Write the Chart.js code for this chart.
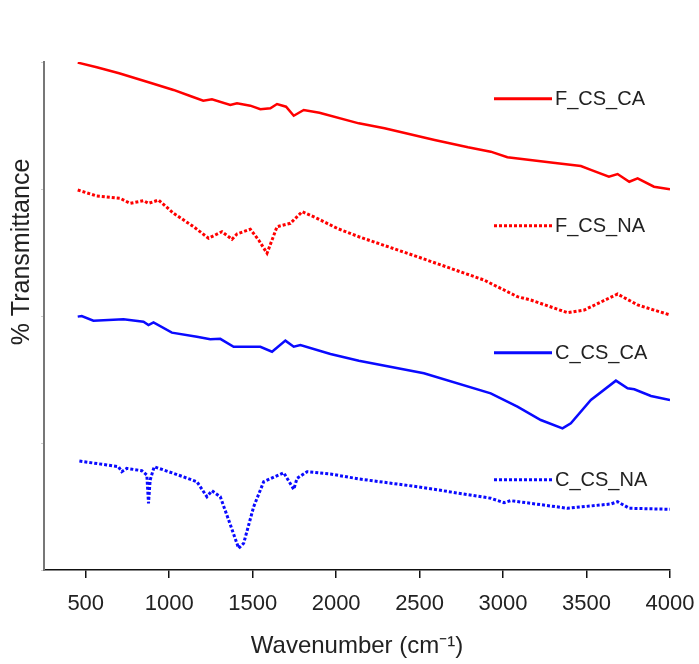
<!DOCTYPE html>
<html>
<head>
<meta charset="utf-8">
<script src="https://cdn.jsdelivr.net/npm/chart.js@4.4.1/dist/chart.umd.min.js"></script>
<style>
  html, body { margin: 0; padding: 0; background: #fff; }
  #wrap { width: 699px; height: 664px; }
</style>
</head>
<body>
<div id="wrap"><canvas id="ftirChart" width="699" height="664"></canvas></div>
<script>
// x axis tick labels (wavenumber)
const xTicks = [500, 1000, 1500, 2000, 2500, 3000, 3500, 4000];

// F_CS_CA
const fcsCaWn = [452, 566, 700, 886, 1026, 1126, 1204, 1256, 1366, 1406, 1486, 1546, 1606, 1646, 1700, 1746, 1806, 1900, 2136, 2290, 2590, 2790, 2926, 3026, 3300, 3466, 3526, 3634, 3686, 3756, 3806, 3904, 4000];
const fcsCaT  = [3.995, 3.958, 3.911, 3.837, 3.78, 3.732, 3.695, 3.706, 3.661, 3.675, 3.656, 3.628, 3.635, 3.669, 3.648, 3.577, 3.622, 3.601, 3.517, 3.478, 3.386, 3.328, 3.294, 3.25, 3.207, 3.181, 3.15, 3.097, 3.118, 3.057, 3.084, 3.018, 2.998];

// F_CS_NA
const fcsNaWn = [452, 566, 706, 766, 846, 876, 936, 1026, 1146, 1236, 1316, 1376, 1406, 1486, 1536, 1586, 1646, 1726, 1796, 1886, 2006, 2136, 2486, 2886, 3086, 3166, 3386, 3486, 3686, 3806, 4000];
const fcsNaT  = [2.992, 2.945, 2.927, 2.887, 2.908, 2.887, 2.913, 2.809, 2.703, 2.612, 2.664, 2.604, 2.646, 2.683, 2.598, 2.494, 2.703, 2.73, 2.821, 2.769, 2.69, 2.624, 2.467, 2.283, 2.152, 2.126, 2.026, 2.047, 2.173, 2.087, 2.008];

// C_CS_CA
const ccsCaWn = [452, 476, 546, 726, 846, 876, 906, 1016, 1166, 1246, 1306, 1386, 1546, 1616, 1696, 1746, 1786, 1966, 2136, 2526, 2926, 3086, 3226, 3356, 3406, 3526, 3676, 3746, 3786, 3886, 4000];
const ccsCaT  = [1.995, 2.0, 1.963, 1.974, 1.955, 1.929, 1.95, 1.869, 1.837, 1.817, 1.82, 1.758, 1.758, 1.719, 1.806, 1.758, 1.772, 1.701, 1.648, 1.549, 1.391, 1.286, 1.181, 1.115, 1.155, 1.339, 1.491, 1.431, 1.423, 1.37, 1.339];

// C_CS_NA
const ccsNaWn = [462, 626, 696, 716, 746, 836, 866, 876, 886, 910, 1026, 1166, 1226, 1256, 1306, 1356, 1416, 1446, 1506, 1566, 1686, 1746, 1766, 1826, 1966, 2136, 2486, 2926, 3006, 3046, 3386, 3646, 3686, 3756, 4000];
const ccsNaT  = [0.858, 0.827, 0.813, 0.774, 0.8, 0.782, 0.748, 0.525, 0.709, 0.813, 0.761, 0.695, 0.577, 0.624, 0.577, 0.394, 0.171, 0.21, 0.498, 0.695, 0.766, 0.635, 0.722, 0.774, 0.756, 0.717, 0.656, 0.565, 0.53, 0.546, 0.486, 0.52, 0.538, 0.486, 0.478];

const toPoints = (xs, ys) => xs.map((x, i) => ({ x: x, y: ys[i] }));

const RED = 'rgb(255, 0, 0)';
const BLUE = 'rgb(10, 10, 255)';
const textFont = "'Liberation Sans', Arial, sans-serif";

// legend drawn beside each trace, and the rotated y title
const sideLegend = {
    id: 'sideLegend',
    afterDatasetsDraw(chart) {
        const ctx = chart.ctx;
        const area = chart.chartArea;
        const yScale = chart.scales.y;
        ctx.save();
        chart.data.datasets.forEach((ds, i) => {
            const y = yScale.getPixelForValue(3.71 - i);
            const x0 = area.right - 176;
            const x1 = area.right - 118;
            ctx.strokeStyle = ds.borderColor;
            ctx.lineWidth = 3;
            ctx.setLineDash(ds.borderDash || []);
            ctx.beginPath();
            ctx.moveTo(x0, y);
            ctx.lineTo(x1, y);
            ctx.stroke();
            ctx.setLineDash([]);
            ctx.fillStyle = '#222';
            ctx.font = '20px ' + textFont;
            ctx.textBaseline = 'middle';
            ctx.textAlign = 'left';
            ctx.fillText(ds.label, x1 + 3, y + 1);
        });
        // y axis title
        ctx.translate(22, 252);
        ctx.rotate(-Math.PI / 2);
        ctx.fillStyle = '#222';
        ctx.font = '25px ' + textFont;
        ctx.textAlign = 'center';
        ctx.textBaseline = 'middle';
        ctx.fillText('% Transmittance', 0, 0);
        ctx.restore();
    }
};

const ctx = document.getElementById('ftirChart').getContext('2d');
new Chart(ctx, {
    type: 'line',
    data: {
        datasets: [
            { label: 'F_CS_CA', data: toPoints(fcsCaWn, fcsCaT), borderColor: RED, borderWidth: 2.5 },
            { label: 'F_CS_NA', data: toPoints(fcsNaWn, fcsNaT), borderColor: RED, borderWidth: 3, borderDash: [3, 2] },
            { label: 'C_CS_CA', data: toPoints(ccsCaWn, ccsCaT), borderColor: BLUE, borderWidth: 2.5 },
            { label: 'C_CS_NA', data: toPoints(ccsNaWn, ccsNaT), borderColor: BLUE, borderWidth: 3, borderDash: [3, 2] }
        ]
    },
    options: {
        responsive: false,
        animation: false,
        devicePixelRatio: 1,
        elements: { point: { radius: 0 }, line: { tension: 0, fill: false } },
        layout: { padding: { top: 62, right: 29, left: 0, bottom: 0 } },
        plugins: {
            legend: { display: false },
            tooltip: { enabled: false }
        },
        scales: {
            x: {
                type: 'linear',
                min: 250,
                max: 4000,
                afterBuildTicks: s => { s.ticks = xTicks.map(v => ({ value: v })); },
                afterFit: s => { s.height = 94; s.paddingLeft = 0; s.paddingRight = 0; },
                ticks: {
                    font: { family: textFont, size: 22 },
                    color: '#222',
                    padding: 13,
                    maxRotation: 0,
                    autoSkip: false,
                    callback: v => String(v)
                },
                grid: { drawOnChartArea: false, tickLength: 8, color: '#111', lineWidth: 1.5 },
                border: { color: '#111', width: 1.5 },
                title: {
                    display: true,
                    text: 'Wavenumber (cm\u207B\u00B9)',
                    font: { family: textFont, size: 24 },
                    color: '#222',
                    padding: { top: 0, bottom: 3 }
                }
            },
            y: {
                min: 0,
                max: 4,
                afterFit: s => { s.width = 44; },
                ticks: { display: false, stepSize: 1 },
                grid: { drawOnChartArea: false, tickLength: 3, color: '#ccc' },
                border: { color: '#777', width: 2 }
            }
        }
    },
    plugins: [sideLegend]
});
</script>
</body>
</html>
